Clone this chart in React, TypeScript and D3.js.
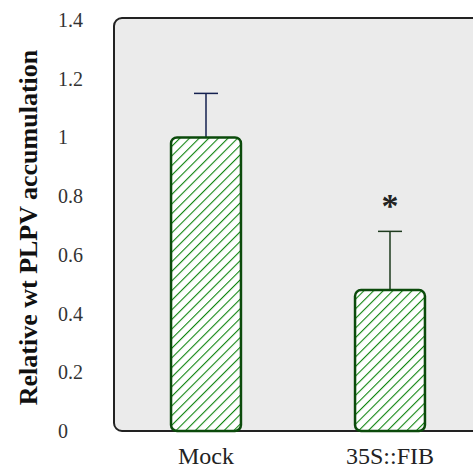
import { useEffect, useRef } from "react";
import * as d3 from "d3";

const categories = ["Mock", "35S::FIB"];
const values = [1.0, 0.48];
const errors = [0.15, 0.2];
const errColors = ["#14204f", "#1e3a1e"];
const significant = [false, true];
const yTicks = [0, 0.2, 0.4, 0.6, 0.8, 1, 1.2, 1.4];

const serif = "'Liberation Serif', 'Times New Roman', 'DejaVu Serif', serif";

export default function App() {
  const ref = useRef<SVGSVGElement>(null);

  useEffect(() => {
    const width = 473;
    const height = 469;
    const margin = { top: 20, right: 0, bottom: 38, left: 114 };
    const svg = d3.select(ref.current);
    svg.selectAll("*").remove();
    svg.attr("width", width).attr("height", height);

    const defs = svg.append("defs");
    const pat = defs
      .append("pattern")
      .attr("id", "hatch")
      .attr("patternUnits", "userSpaceOnUse")
      .attr("width", 6.8)
      .attr("height", 6.8)
      .attr("patternTransform", "rotate(45)");
    pat.append("rect").attr("width", 6.8).attr("height", 6.8).attr("fill", "white");
    pat
      .append("line")
      .attr("x1", 0)
      .attr("y1", 0)
      .attr("x2", 0)
      .attr("y2", 6.8)
      .attr("stroke", "#108510")
      .attr("stroke-width", 2.2);

    const y = d3
      .scaleLinear()
      .domain([0, 1.4])
      .range([height - margin.bottom, margin.top]);
    const x = d3
      .scaleBand()
      .domain(categories)
      .range([margin.left, margin.left + 368])
      .paddingInner(0.62)
      .paddingOuter(0.31);

    const y0 = y(0);
    // plot panel
    svg
      .append("rect")
      .attr("x", margin.left)
      .attr("y", 18)
      .attr("width", 400)
      .attr("height", y0 - 18)
      .attr("rx", 8)
      .attr("fill", "#ebebeb")
      .attr("stroke", "#222")
      .attr("stroke-width", 2);

    // y tick labels
    svg
      .append("g")
      .selectAll("text")
      .data(yTicks)
      .enter()
      .append("text")
      .attr("x", 58)
      .attr("y", (d) => y(d))
      .attr("dy", "0.35em")
      .attr("text-anchor", "start")
      .style("font-family", serif)
      .style("font-size", "20px")
      .attr("fill", "#333")
      .text((d) => String(d));

    svg
      .append("text")
      .attr("transform", `translate(37,${(y0 + margin.top) / 2 + 2}) rotate(-90)`)
      .attr("text-anchor", "middle")
      .style("font-family", serif)
      .style("font-weight", "bold")
      .style("font-size", "26px")
      .attr("fill", "#111")
      .text("Relative wt PLPV accumulation");

    const g = svg.append("g");
    categories.forEach((c, i) => {
      const cx = x(c)! + x.bandwidth() / 2;
      g.append("line")
        .attr("x1", cx)
        .attr("x2", cx)
        .attr("y1", y(values[i]))
        .attr("y2", y(values[i] + errors[i]))
        .attr("stroke", errColors[i])
        .attr("stroke-width", 1.5);
      g.append("line")
        .attr("x1", cx - 12)
        .attr("x2", cx + 12)
        .attr("y1", y(values[i] + errors[i]))
        .attr("y2", y(values[i] + errors[i]))
        .attr("stroke", errColors[i])
        .attr("stroke-width", 1.5);
      g.append("rect")
        .attr("x", x(c)!)
        .attr("y", y(values[i]))
        .attr("width", x.bandwidth())
        .attr("height", y0 - y(values[i]))
        .attr("rx", 6)
        .attr("fill", "url(#hatch)")
        .attr("stroke", "#0b4a0b")
        .attr("stroke-width", 2.5);
      if (significant[i]) {
        g.append("text")
          .attr("x", cx)
          .attr("y", y(values[i] + errors[i]) - 14)
          .attr("text-anchor", "middle")
          .style("font-family", serif)
          .style("font-weight", "bold")
          .style("font-size", "34px")
          .attr("fill", "#222")
          .text("*");
      }
      svg
        .append("text")
        .attr("x", cx)
        .attr("y", y0 + 33)
        .attr("text-anchor", "middle")
        .style("font-family", serif)
        .style("font-size", "24px")
        .attr("fill", "#222")
        .text(c);
    });
  }, []);

  return (
    <div style={{ position: "absolute", left: 0, top: 0 }}>
      <svg ref={ref}></svg>
    </div>
  );
}
